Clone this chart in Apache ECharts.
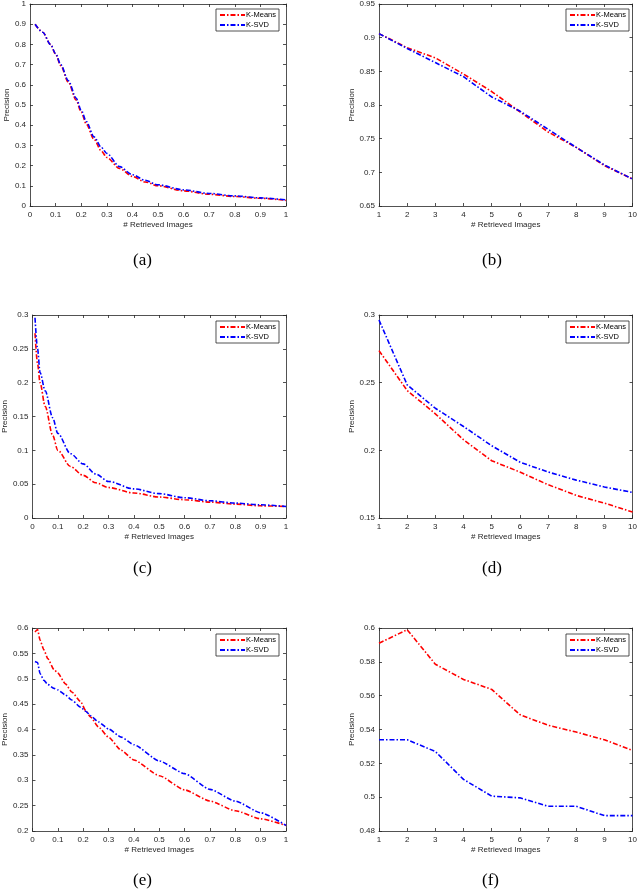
<!DOCTYPE html>
<html>
<head>
<meta charset="utf-8">
<script src="https://cdn.jsdelivr.net/npm/echarts@6/dist/echarts.min.js"></script>
<style>
  html, body { margin: 0; padding: 0; background: #fff; }
  #chart { width: 640px; height: 896px; }
</style>
</head>
<body>
<div id="chart"></div>
<script>
// (a)
const xA = [0.02, 0.05, 0.08, 0.1, 0.12, 0.15, 0.18, 0.2, 0.22, 0.25, 0.28, 0.3, 0.35, 0.4, 0.45, 0.5, 0.6, 0.7, 0.8, 0.9, 1.0];
const kmeansA = [0.9, 0.86, 0.8, 0.752, 0.695, 0.612, 0.525, 0.465, 0.405, 0.33, 0.27, 0.24, 0.186, 0.146, 0.119, 0.1, 0.075, 0.058, 0.047, 0.038, 0.028];
const ksvdA = [0.9, 0.86, 0.8, 0.755, 0.7, 0.62, 0.535, 0.475, 0.418, 0.342, 0.288, 0.26, 0.195, 0.155, 0.127, 0.105, 0.08, 0.062, 0.05, 0.04, 0.03];
// (b)
const xB = [1, 2, 3, 4, 5, 6, 7, 8, 9, 10];
const kmeansB = [0.906, 0.885, 0.870, 0.846, 0.820, 0.790, 0.760, 0.737, 0.710, 0.690];
const ksvdB = [0.906, 0.884, 0.863, 0.842, 0.812, 0.791, 0.764, 0.737, 0.711, 0.690];
// (c)
const xC = [0.01, 0.02, 0.03, 0.05, 0.08, 0.1, 0.15, 0.2, 0.25, 0.3, 0.4, 0.5, 0.6, 0.7, 0.8, 0.9, 1.0];
const kmeansC = [0.273, 0.228, 0.2, 0.165, 0.122, 0.1, 0.076, 0.063, 0.052, 0.045, 0.037, 0.031, 0.027, 0.0235, 0.0205, 0.018, 0.017];
const ksvdC = [0.296, 0.25, 0.215, 0.188, 0.148, 0.125, 0.095, 0.08, 0.065, 0.054, 0.043, 0.036, 0.03, 0.0255, 0.022, 0.0195, 0.017];
// (d)
const xD = [1, 2, 3, 4, 5, 6, 7, 8, 9, 10];
const kmeansD = [0.2737, 0.2442, 0.227, 0.2078, 0.1923, 0.184, 0.1746, 0.1667, 0.161, 0.1544];
const ksvdD = [0.2963, 0.2484, 0.2311, 0.2176, 0.2034, 0.1913, 0.184, 0.178, 0.1729, 0.1689];
// (e)
const xE = [0.01, 0.02, 0.03, 0.045, 0.06, 0.085, 0.1, 0.13, 0.155, 0.19, 0.21, 0.23, 0.26, 0.3, 0.35, 0.4, 0.5, 0.6, 0.7, 0.8, 0.9, 1.0];
const kmeansE = [0.592, 0.597, 0.576, 0.557, 0.54, 0.518, 0.511, 0.49, 0.474, 0.455, 0.437, 0.424, 0.405, 0.385, 0.359, 0.34, 0.309, 0.281, 0.259, 0.24, 0.224, 0.211];
const ksvdE = [0.534, 0.532, 0.51, 0.497, 0.489, 0.481, 0.478, 0.468, 0.458, 0.444, 0.436, 0.427, 0.415, 0.401, 0.385, 0.37, 0.338, 0.313, 0.282, 0.259, 0.236, 0.211];
// (f)
const xF = [1, 2, 3, 4, 5, 6, 7, 8, 9, 10];
const kmeansF = [0.591, 0.599, 0.5786, 0.5696, 0.5637, 0.5488, 0.5425, 0.5385, 0.5339, 0.5276];
const ksvdF = [0.5339, 0.5339, 0.527, 0.5105, 0.5006, 0.4996, 0.4946, 0.4946, 0.4891, 0.4891];

const captions = ['(a)', '(b)', '(c)', '(d)', '(e)', '(f)'];
const seriesNames = ['K-Means', 'K-SVD'];

const panels = [
  { x: xA, km: kmeansA, sv: ksvdA, xMin: 0, xMax: 1, xInt: 0.1, yMin: 0, yMax: 1, yInt: 0.1, smooth: 0.3 },
  { x: xB, km: kmeansB, sv: ksvdB, xMin: 1, xMax: 10, xInt: 1, yMin: 0.65, yMax: 0.95, yInt: 0.05, smooth: false },
  { x: xC, km: kmeansC, sv: ksvdC, xMin: 0, xMax: 1, xInt: 0.1, yMin: 0, yMax: 0.3, yInt: 0.05, smooth: 0.3 },
  { x: xD, km: kmeansD, sv: ksvdD, xMin: 1, xMax: 10, xInt: 1, yMin: 0.15, yMax: 0.3, yInt: 0.05, smooth: false },
  { x: xE, km: kmeansE, sv: ksvdE, xMin: 0, xMax: 1, xInt: 0.1, yMin: 0.2, yMax: 0.6, yInt: 0.05, smooth: 0.2 },
  { x: xF, km: kmeansF, sv: ksvdF, xMin: 1, xMax: 10, xInt: 1, yMin: 0.48, yMax: 0.6, yInt: 0.02, smooth: false }
];

// plot boxes
const lefts = [30, 379];
const widths = [256, 257];
const tops = [3, 315, 628];
const plotH = 203;
const captionY = [262, 570, 882];
const captionX = [143, 492];

const axisColor = '#262626';
const font = '"Liberation Sans", Arial, sans-serif';

const grid = [], xAxis = [], yAxis = [], series = [], legend = [], graphic = [];

panels.forEach((p, i) => {
  const col = i % 2, row = Math.floor(i / 2);
  grid.push({ left: lefts[col], top: tops[row], width: widths[col], height: plotH });

  const common = {
    gridIndex: i,
    type: 'value',
    splitLine: { show: false },
    axisLine: { show: true, onZero: false, lineStyle: { color: axisColor, width: 0.8 } },
    axisTick: { show: true, inside: true, length: 3, lineStyle: { color: axisColor, width: 0.8 } }
  };
  const labelStyle = { color: axisColor, fontSize: 8, fontFamily: font };

  xAxis.push(Object.assign({}, common, {
    position: 'bottom', min: p.xMin, max: p.xMax, interval: p.xInt,
    axisLabel: Object.assign({ margin: 5 }, labelStyle),
    name: '# Retrieved Images', nameLocation: 'middle', nameGap: 15,
    nameTextStyle: { color: axisColor, fontSize: 8, fontFamily: font }
  }));
  xAxis.push(Object.assign({}, common, {
    position: 'top', min: p.xMin, max: p.xMax, interval: p.xInt,
    axisLabel: { show: false }
  }));
  yAxis.push(Object.assign({}, common, {
    position: 'left', min: p.yMin, max: p.yMax, interval: p.yInt,
    axisLabel: Object.assign({ margin: 4 }, labelStyle),
    name: 'Precision', nameLocation: 'middle', nameGap: col === 0 ? 18 : 22,
    nameTextStyle: { color: axisColor, fontSize: 8, fontFamily: font }
  }));
  yAxis.push(Object.assign({}, common, {
    position: 'right', min: p.yMin, max: p.yMax, interval: p.yInt,
    axisLabel: { show: false }
  }));

  [[p.km, '#ff0000', 0], [p.sv, '#0000ff', 1]].forEach(([vals, color, k]) => {
    series.push({
      name: seriesNames[k],
      type: 'line',
      xAxisIndex: 2 * i,
      yAxisIndex: 2 * i,
      data: p.x.map((x, j) => [x, vals[j]]),
      showSymbol: false,
      symbol: 'none',
      smooth: p.smooth,
      smoothMonotone: 'x',
      color: color,
      lineStyle: { color: color, width: 1.6, type: [5, 2, 1.5, 2] },
      z: k === 1 ? 3 : 2
    });
  });

  legend.push({
    data: seriesNames,
    orient: 'vertical',
    right: 640 - (lefts[col] + widths[col] - 7),
    top: tops[row] + 6,
    itemWidth: 25,
    itemHeight: 8,
    itemGap: 2,
    padding: [2, 3, 2, 3],
    borderColor: axisColor,
    borderWidth: 0.8,
    backgroundColor: '#fff',
    selectedMode: false,
    itemStyle: { opacity: 0 },
    textStyle: { color: '#000', fontSize: 7.5, fontFamily: font, padding: [0, 0, 0, -4] }
  });

  graphic.push({
    type: 'text',
    left: captionX[col] - 10,
    top: captionY[row] - 10,
    style: { text: captions[i], font: '17px "Liberation Serif", "Times New Roman", serif', fill: '#000' }
  });
});

const chart = echarts.init(document.getElementById('chart'));
chart.setOption({
  backgroundColor: '#fff',
  animation: false,
  grid: grid,
  xAxis: xAxis,
  yAxis: yAxis,
  legend: legend,
  series: series,
  graphic: graphic
});
</script>
</body>
</html>
